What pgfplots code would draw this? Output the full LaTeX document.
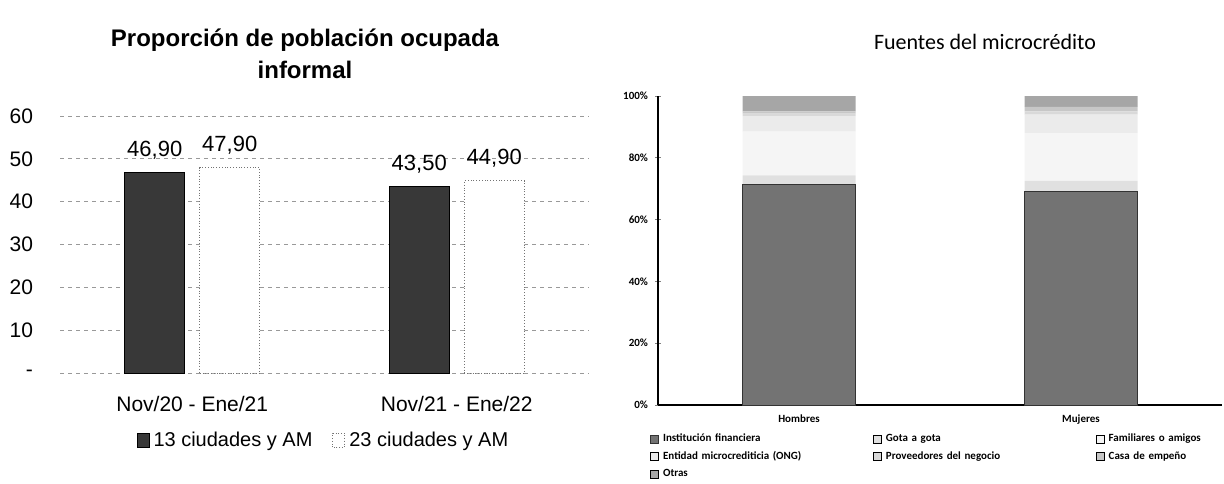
\documentclass[border=0pt]{standalone}
\usepackage{pgfplots}
\pgfplotsset{compat=1.18}
\usepackage{fontspec}
\setmainfont{Liberation Sans}
\newfontfamily\calibri{Carlito}
\begin{document}
\begin{tikzpicture}
\useasboundingbox (0,0) rectangle (612pt,241.5pt);

% titles
\node[align=center, font=\fontsize{12}{16}\selectfont\bfseries] at (152.5pt,214.5pt)
  {Proporción de población ocupada\\informal};
\node[font=\calibri\fontsize{11}{13}\selectfont] at (492.5pt,220.5pt) {Fuentes del microcrédito};

% left chart
\begin{axis}[
    at={(30pt,55pt)}, anchor=south west,
    width=264.5pt, height=128.5pt, scale only axis,
    xmin=-0.5, xmax=1.5, ymin=0, ymax=60,
    axis line style={draw=none},
    major tick length=0pt,
    ybar=7.5pt, bar width=30pt,
    xtick={0,1}, xticklabels={Nov/20 - Ene/21, Nov/21 - Ene/22},
    ytick={0,10,...,60}, yticklabels={-\hspace{5pt},10,20,30,40,50,60},
    ymajorgrids, major grid style={black!40, dash pattern=on 2pt off 2pt, line width=0.4pt},
    tick label style={font=\fontsize{10.5}{12}\selectfont},
    yticklabel style={xshift=-10pt},
    xticklabel style={yshift=-8pt},
    /pgf/number format/assume math mode=true,
    nodes near coords,
    nodes near coords style={font=\fontsize{11}{12}\selectfont, yshift=3pt,
      /pgf/number format/.cd, fixed, fixed zerofill, precision=2, use comma},
    legend style={at={(0.5,-0.265)}, anchor=center, draw=none,
      font=\fontsize{10}{12}\selectfont, legend columns=2,
      /tikz/every even column/.append style={column sep=8pt}},
    legend image code/.code={\draw[#1] (0pt,-3pt) rectangle (6pt,4pt);},
]
\addplot[fill=black!78, draw=black] coordinates {(0,46.9) (1,43.5)};
\addplot[fill=white, draw=black!55, densely dotted] coordinates {(0,47.9) (1,44.9)};
\legend{13 ciudades y AM, 23 ciudades y AM}
\end{axis}

% right chart
\begin{axis}[
    at={(329pt,39pt)}, anchor=south west,
    width=282pt, height=154.5pt, scale only axis,
    xmin=-0.5, xmax=1.5, ymin=0, ymax=100,
    ybar stacked, bar width=56.5pt,
    axis x line=bottom, axis y line=left,
    axis line style={-, line width=0.6pt},
    xtick={0,1}, xticklabels={Hombres, Mujeres},
    x tick style={draw=none},
    extra x ticks={0.5}, extra x tick labels={},
    extra x tick style={tick style={draw=black, line width=0.5pt}, major tick length=3pt, tick align=outside},
    ytick={0,20,...,100}, yticklabel={\pgfmathprintnumber{\tick}\%},
    y tick style={line width=0.5pt}, major tick length=3pt, tick align=center,
    tick label style={font=\calibri\bfseries\fontsize{5.5}{6}\selectfont},
    xticklabel style={font=\calibri\bfseries\fontsize{5.5}{6}\selectfont},
    /pgf/number format/assume math mode=true,
    legend style={at={(-0.025,-0.075)}, anchor=north west, draw=none,
      font=\calibri\bfseries\fontsize{5.5}{6.5}\selectfont, legend columns=3,
      nodes={text width=103pt, align=left, inner ysep=0.8pt}, row sep=1.6pt},
    legend image code/.code={\draw[#1] (0pt,-2pt) rectangle (4pt,2pt);},
    legend cell align=left,
]
\addplot[fill=black!55, draw=black!80] coordinates {(0,71.3) (1,69.0)};
\addplot[fill=black!12, draw=none] coordinates {(0,3.0) (1,3.5)};
\addplot[fill=black!4, draw=none] coordinates {(0,14.2) (1,15.5)};
\addplot[fill=black!8, draw=none] coordinates {(0,5.0) (1,6.0)};
\addplot[fill=black!15, draw=none] coordinates {(0,0.8) (1,1.0)};
\addplot[fill=black!22, draw=none] coordinates {(0,0.7) (1,1.5)};
\addplot[fill=black!35, draw=none] coordinates {(0,5.0) (1,3.5)};
\legend{Institución financiera, Gota a gota, Familiares o amigos,
  Entidad microcrediticia (ONG), Proveedores del negocio, Casa de empeño, Otras}
\end{axis}
\end{tikzpicture}
\end{document}
